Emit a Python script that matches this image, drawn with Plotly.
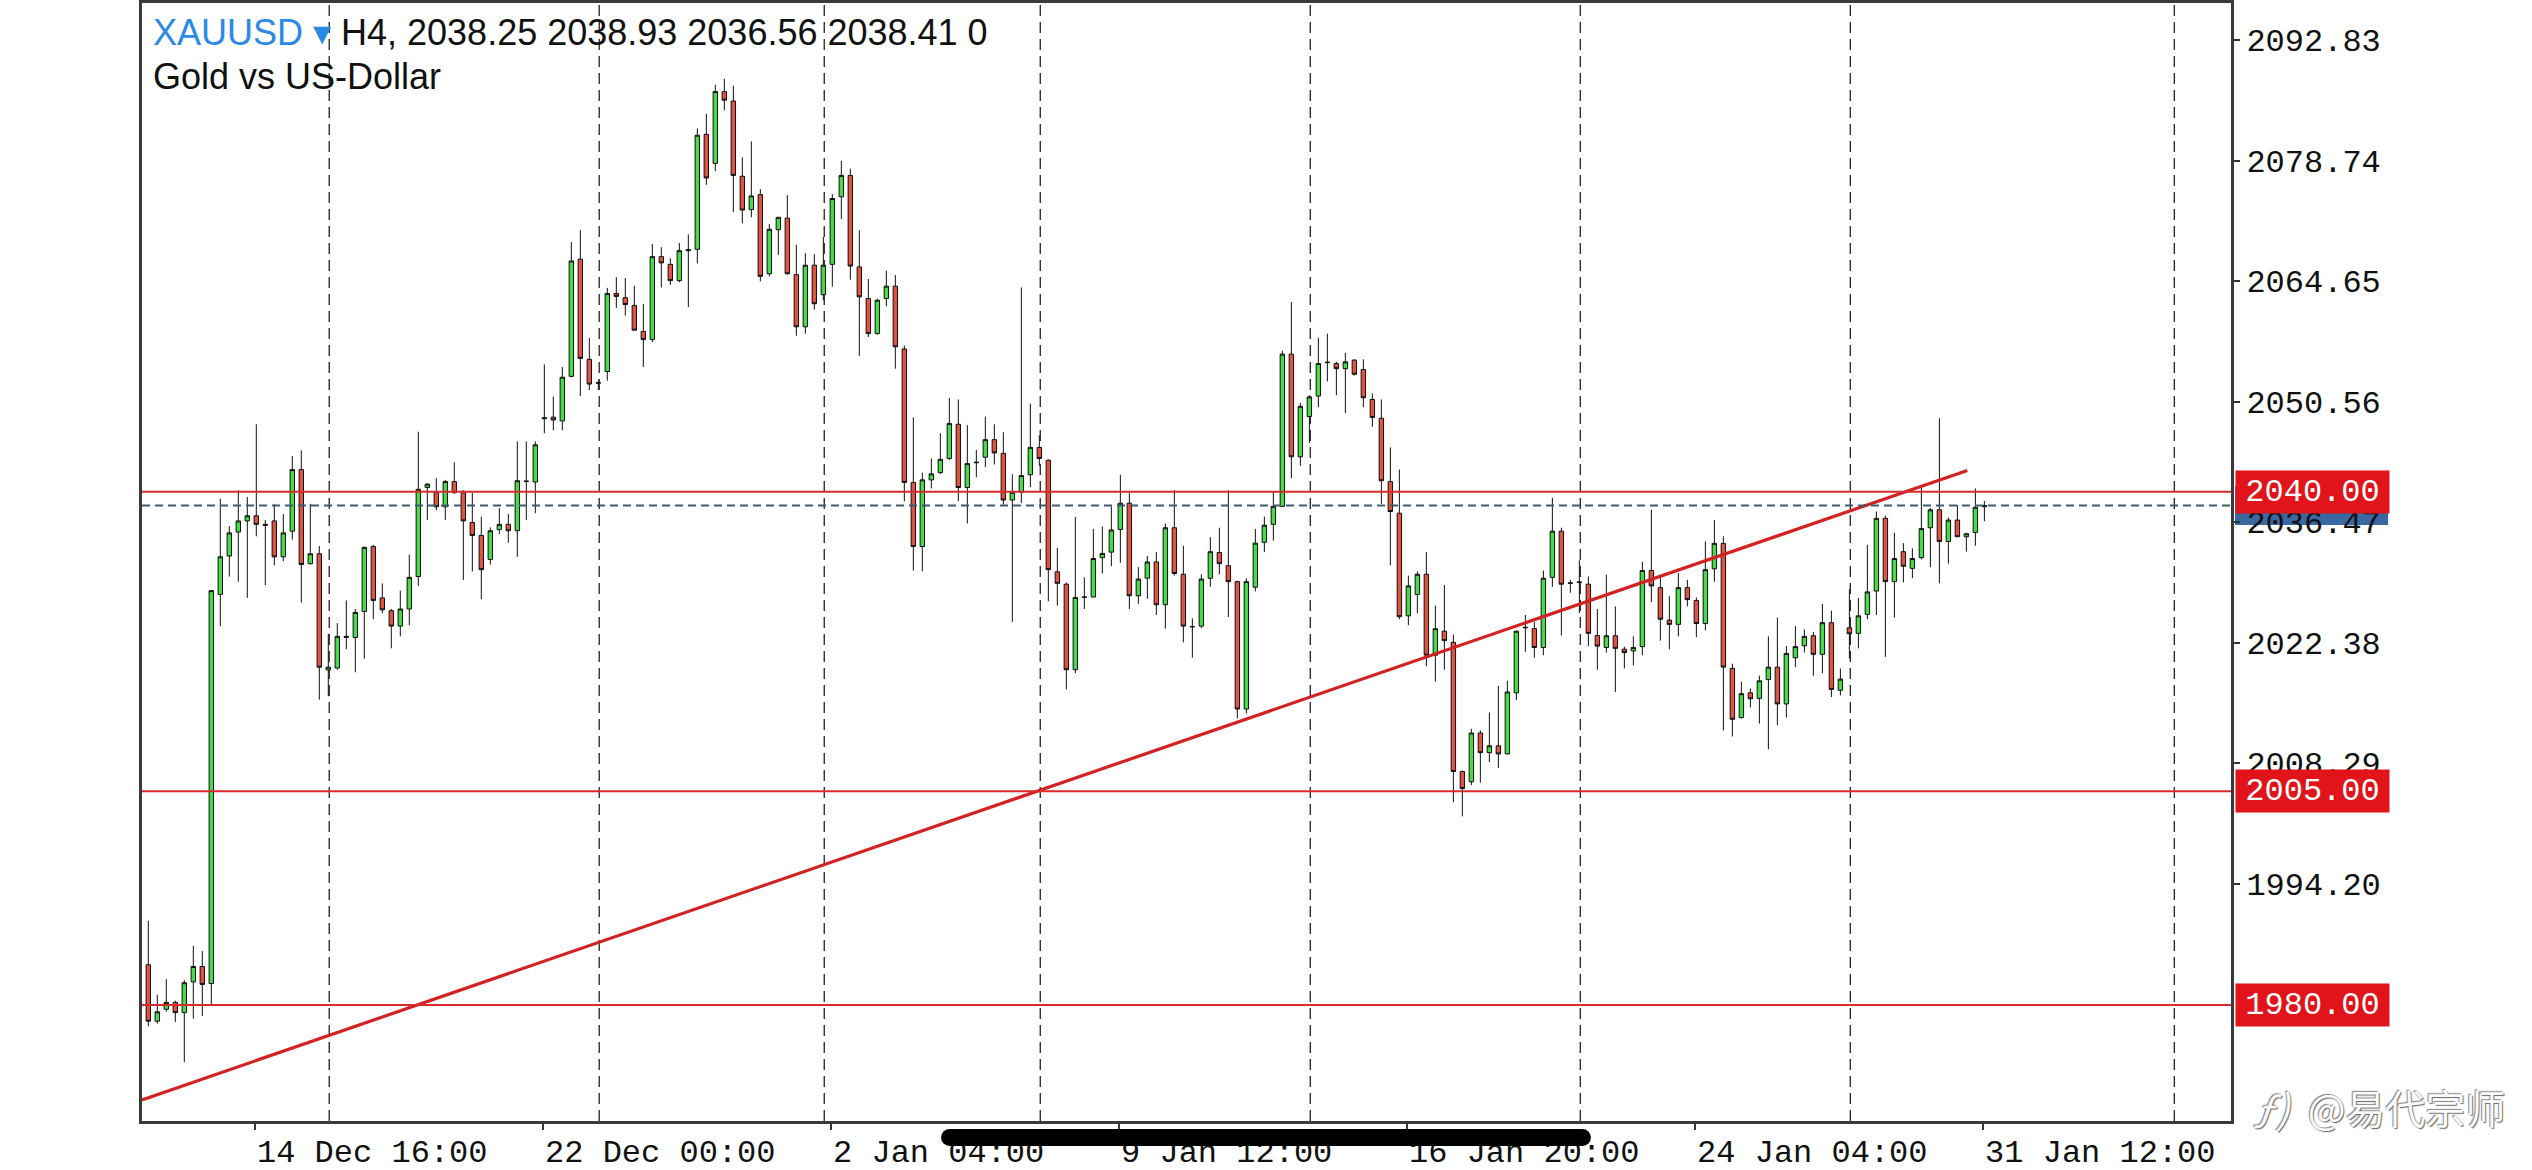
import plotly.graph_objects as go

# H4 candles (bar 0 = oldest)
opens = [
    1984.7, 1978.1, 1979.5, 1980.3, 1979.1, 1982.7, 1984.5, 1982.5, 2028.0, 2032.5,
    2035.3, 2036.6, 2037.2, 2036.2, 2036.6, 2032.4, 2035.4, 2042.6, 2031.6, 2032.76,
    2019.17, 2019.4, 2023.1, 2022.97, 2026.0, 2033.6, 2027.6, 2026.1, 2024.3, 2026.3,
    2030.1, 2040.5, 2039.9, 2038.25, 2041.2, 2039.9, 2036.4, 2034.9, 2032.1, 2035.6,
    2036.2, 2035.45, 2041.2, 2041.15, 2048.55, 2048.73, 2048.3, 2053.5, 2067.2, 2055.5,
    2052.7, 2054.07, 2063.2, 2062.7, 2061.8, 2058.75, 2057.8, 2067.5, 2066.6, 2064.7,
    2068.2, 2068.36, 2081.8, 2078.4, 2086.8, 2085.7, 2076.9, 2073.0, 2074.75, 2065.5,
    2070.65, 2072.0, 2065.4, 2059.3, 2066.5, 2063.05, 2066.6, 2074.5, 2077.0, 2066.3,
    2062.6, 2058.5, 2062.6, 2064.05, 2056.7, 2041.1, 2033.6, 2041.4, 2042.25, 2043.9,
    2047.9, 2040.5, 2043.4, 2044.05, 2046.1, 2044.5, 2039.04, 2039.96, 2042.0, 2045.2,
    2043.7, 2030.65, 2029.2, 2019.2, 2027.65, 2027.7, 2032.3, 2032.95, 2035.6, 2038.67,
    2027.85, 2029.9, 2031.8, 2026.8, 2035.8, 2030.36, 2024.2, 2024.3, 2029.9, 2032.9,
    2031.36, 2029.5, 2014.6, 2028.85, 2034.1, 2036.2, 2038.3, 2056.1, 2044.1, 2048.8,
    2051.2, 2055.1, 2055.0, 2054.4, 2055.4, 2054.3, 2050.8, 2048.6, 2041.2, 2037.5,
    2025.5, 2028.0, 2030.36, 2020.9, 2023.7, 2022.4, 2007.3, 2006.1, 2011.8, 2009.5,
    2010.3, 2009.35, 2016.5, 2024.1, 2024.0, 2021.8, 2030.0, 2035.4, 2029.3, 2029.4,
    2029.2, 2023.2, 2021.8, 2023.17, 2021.6, 2021.4, 2021.9, 2030.8, 2028.8, 2025.0,
    2024.5, 2028.8, 2027.3, 2024.6, 2031.0, 2033.97, 2019.35, 2013.6, 2016.5, 2015.85,
    2018.05, 2019.5, 2015.2, 2020.6, 2022.0, 2023.17, 2021.0, 2024.7, 2016.8, 2024.1,
    2023.45, 2025.67, 2028.4, 2036.9, 2029.5, 2033.0, 2031.05, 2032.3, 2035.8, 2037.9,
    2034.2, 2036.7, 2034.75, 2035.25, 2038.25,
]
highs = [
    1989.85, 1981.2, 1983.0, 1980.5, 1982.9, 1986.9, 1986.3, 2028.5, 2039.2, 2036.0,
    2040.2, 2039.4, 2047.9, 2036.7, 2038.6, 2037.4, 2044.2, 2044.85, 2038.6, 2033.66,
    2023.4, 2024.65, 2027.3, 2026.3, 2033.6, 2033.8, 2029.3, 2026.3, 2028.45, 2032.65,
    2047.03, 2041.04, 2041.6, 2041.4, 2043.45, 2040.2, 2039.9, 2037.1, 2035.84, 2038.1,
    2037.4, 2045.9, 2045.9, 2045.9, 2054.9, 2051.15, 2054.6, 2069.2, 2070.6, 2058.0,
    2053.1, 2063.85, 2065.1, 2065.0, 2064.1, 2061.97, 2068.98, 2068.6, 2067.3, 2069.1,
    2070.1, 2082.5, 2084.2, 2087.6, 2088.3, 2087.5, 2079.1, 2080.97, 2075.4, 2071.3,
    2072.1, 2074.7, 2068.9, 2067.9, 2067.8, 2069.8, 2074.8, 2078.7, 2077.8, 2070.6,
    2064.9, 2062.6, 2065.85, 2065.35, 2057.1, 2048.7, 2042.25, 2043.9, 2046.85, 2051.0,
    2050.8, 2047.8, 2044.9, 2048.8, 2047.9, 2046.97, 2042.05, 2063.9, 2050.3, 2046.6,
    2043.8, 2033.45, 2029.4, 2037.05, 2030.0, 2035.66, 2035.95, 2038.3, 2042.0, 2039.85,
    2031.2, 2032.5, 2032.95, 2036.3, 2040.2, 2033.7, 2025.2, 2030.36, 2034.7, 2035.8,
    2040.2, 2029.6, 2029.9, 2035.66, 2037.1, 2040.05, 2056.5, 2062.2, 2050.4, 2051.3,
    2058.0, 2058.5, 2055.2, 2056.25, 2055.5, 2055.5, 2051.5, 2050.8, 2045.2, 2042.6,
    2030.2, 2030.7, 2032.95, 2026.7, 2029.1, 2023.3, 2007.4, 2012.3, 2012.1, 2014.2,
    2017.3, 2017.9, 2023.8, 2025.6, 2024.8, 2030.8, 2039.3, 2035.8, 2029.7, 2032.0,
    2030.1, 2026.3, 2030.3, 2026.6, 2021.9, 2023.1, 2031.8, 2037.9, 2030.3, 2027.8,
    2030.5, 2029.7, 2027.65, 2034.2, 2036.7, 2034.8, 2019.9, 2017.8, 2017.0, 2018.5,
    2023.1, 2025.3, 2021.97, 2024.3, 2023.9, 2023.6, 2026.9, 2026.1, 2019.35, 2028.6,
    2027.6, 2033.8, 2037.7, 2037.2, 2035.2, 2034.0, 2033.4, 2040.5, 2038.1, 2048.6,
    2037.0, 2038.45, 2035.2, 2040.4, 2038.93,
]
lows = [
    1977.5, 1977.8, 1979.2, 1978.0, 1973.3, 1978.4, 1978.7, 1980.1, 2024.3, 2030.1,
    2029.5, 2027.6, 2034.8, 2029.1, 2031.4, 2031.9, 2034.4, 2027.05, 2031.5, 2015.7,
    2016.1, 2019.2, 2021.6, 2018.9, 2020.5, 2025.1, 2025.8, 2021.7, 2023.1, 2024.4,
    2029.0, 2036.7, 2037.85, 2036.7, 2039.8, 2029.7, 2030.7, 2027.45, 2031.5, 2035.05,
    2034.05, 2032.4, 2036.7, 2037.5, 2046.85, 2047.2, 2047.2, 2053.4, 2051.2, 2051.9,
    2051.9, 2052.99, 2061.5, 2060.6, 2058.9, 2054.6, 2057.5, 2063.9, 2064.2, 2064.5,
    2061.6, 2066.7, 2075.9, 2077.5, 2084.6, 2072.7, 2071.4, 2072.1, 2064.6, 2065.2,
    2067.7, 2065.4, 2058.25, 2058.5, 2061.3, 2062.4, 2064.0, 2071.9, 2064.8, 2055.9,
    2058.1, 2058.4, 2061.7, 2054.4, 2038.9, 2030.8, 2030.7, 2040.4, 2042.1, 2043.7,
    2038.9, 2036.3, 2041.7, 2042.9, 2043.2, 2038.5, 2024.8, 2038.7, 2040.55, 2043.05,
    2027.2, 2026.7, 2016.9, 2018.8, 2026.3, 2027.7, 2030.45, 2031.3, 2031.7, 2026.3,
    2026.9, 2027.5, 2025.6, 2024.0, 2030.2, 2022.4, 2020.6, 2024.05, 2028.9, 2030.36,
    2025.35, 2013.5, 2014.1, 2028.35, 2032.95, 2034.3, 2038.2, 2041.6, 2043.05, 2045.7,
    2049.9, 2052.9, 2051.3, 2049.2, 2053.6, 2049.9, 2047.6, 2038.6, 2031.4, 2025.1,
    2024.4, 2025.8, 2019.6, 2017.8, 2019.2, 2003.7, 2002.05, 2005.7, 2006.0, 2008.4,
    2007.7, 2009.3, 2015.65, 2021.3, 2020.6, 2020.9, 2028.9, 2023.2, 2028.2, 2025.8,
    2021.96, 2019.2, 2021.2, 2016.6, 2019.35, 2019.7, 2020.9, 2027.1, 2022.6, 2021.6,
    2023.1, 2026.6, 2023.0, 2023.8, 2029.5, 2012.1, 2011.4, 2013.5, 2014.8, 2012.9,
    2009.9, 2012.7, 2013.6, 2019.5, 2021.2, 2018.5, 2018.8, 2016.0, 2016.2, 2020.5,
    2021.7, 2025.1, 2025.6, 2020.7, 2025.3, 2029.4, 2029.9, 2032.1, 2031.2, 2029.3,
    2031.6, 2034.7, 2033.0, 2033.7, 2036.56,
]
closes = [
    1978.1, 1979.2, 1980.3, 1979.1, 1982.6, 1984.5, 1982.4, 2028.45, 2032.4, 2035.2,
    2036.6, 2037.2, 2036.2, 2036.1, 2032.4, 2035.2, 2042.6, 2031.5, 2032.76, 2019.5,
    2019.5, 2023.1, 2023.0, 2025.9, 2033.5, 2027.3, 2026.2, 2024.3, 2026.3, 2030.0,
    2040.3, 2040.9, 2038.25, 2041.2, 2039.9, 2036.6, 2034.9, 2030.9, 2035.45, 2036.2,
    2035.45, 2041.3, 2041.25, 2045.5, 2048.65, 2048.4, 2053.4, 2067.0, 2055.6, 2052.6,
    2052.75, 2063.2, 2062.85, 2061.9, 2058.9, 2057.8, 2067.5, 2066.77, 2064.7, 2068.2,
    2068.3, 2081.7, 2076.7, 2086.8, 2085.8, 2077.0, 2072.95, 2074.6, 2065.2, 2070.7,
    2072.1, 2065.5, 2059.3, 2066.5, 2062.0, 2066.5, 2074.3, 2077.0, 2066.4, 2062.8,
    2058.5, 2062.4, 2064.05, 2056.96, 2041.1, 2033.6, 2041.4, 2042.1, 2043.8, 2048.0,
    2040.5, 2043.3, 2043.45, 2046.1, 2044.55, 2039.04, 2039.96, 2041.9, 2045.2, 2043.9,
    2030.9, 2029.3, 2019.2, 2027.65, 2027.7, 2032.2, 2032.8, 2035.54, 2038.67, 2027.85,
    2029.8, 2031.8, 2026.8, 2035.8, 2030.45, 2024.3, 2024.25, 2029.8, 2033.0, 2031.6,
    2029.5, 2014.6, 2029.5, 2034.0, 2036.1, 2038.3, 2056.1, 2044.1, 2050.0, 2051.1,
    2055.0, 2055.15, 2054.4, 2055.2, 2053.75, 2051.0, 2048.7, 2041.3, 2037.7, 2025.4,
    2029.0, 2030.36, 2020.9, 2024.0, 2022.6, 2007.3, 2005.3, 2011.8, 2009.5, 2010.3,
    2009.35, 2016.6, 2023.7, 2024.15, 2021.8, 2029.9, 2035.4, 2029.2, 2029.35, 2029.45,
    2023.45, 2021.96, 2023.17, 2021.7, 2021.2, 2021.8, 2030.8, 2029.0, 2025.1, 2024.5,
    2028.8, 2027.4, 2024.6, 2030.9, 2033.97, 2019.5, 2013.4, 2016.4, 2015.8, 2017.9,
    2019.5, 2015.2, 2021.1, 2021.9, 2023.1, 2021.0, 2024.7, 2016.9, 2018.1, 2023.4,
    2025.5, 2028.3, 2036.9, 2029.5, 2032.2, 2031.3, 2032.2, 2035.7, 2037.9, 2034.2,
    2036.7, 2034.75, 2035.1, 2038.2, 2038.41,
]

# price axis and time axis labels
price_ticks = [2092.83, 2078.74, 2064.65, 2050.56, 2036.47, 2022.38, 2008.29, 1994.20]
time_tick_bars = [11.8, 43.8, 75.8, 107.8, 139.8, 171.8, 203.8]
time_tick_labels = ["14 Dec 16:00", "22 Dec 00:00", "2 Jan 04:00", "9 Jan 12:00",
                    "16 Jan 20:00", "24 Jan 04:00", "31 Jan 12:00"]
separator_bars = [20.1, 50.1, 75.1, 99.1, 129.1, 159.1, 189.1, 225.1]

# drawn objects
levels = [2040.00, 2005.00, 1980.00]
trend_bars = [-0.7, 202.1]
trend_prices = [1968.9, 2042.5]
last_price = 2038.41

bars = list(range(len(opens)))
MONO = "Liberation Mono"
RED = "#e0141a"

fig = go.Figure()

fig.add_trace(go.Candlestick(
    x=bars, open=opens, high=highs, low=lows, close=closes,
    increasing=dict(fillcolor="#46dc46", line=dict(color="#111111", width=1)),
    decreasing=dict(fillcolor="#e25242", line=dict(color="#111111", width=1)),
    whiskerwidth=0, hoverinfo="skip",
))

fig.add_trace(go.Scatter(
    x=trend_bars, y=trend_prices, mode="lines",
    line=dict(color="#d22222", width=3.2), hoverinfo="skip",
))

shapes = []
# period separators
for b in separator_bars:
    shapes.append(dict(type="line", xref="x", yref="paper", x0=b, x1=b, y0=0, y1=1,
                       line=dict(color="#111111", width=1.2, dash="11px,6px"), layer="below"))
# horizontal levels
for lv in levels:
    shapes.append(dict(type="line", xref="paper", yref="y", x0=0, x1=1, y0=lv, y1=lv,
                       line=dict(color="#d92b2b", width=2), layer="above"))
# bid line
shapes.append(dict(type="line", xref="paper", yref="y", x0=0, x1=1, y0=last_price, y1=last_price,
                   line=dict(color="#3f5c6e", width=2, dash="8px,5px"), layer="above"))
# blue price box behind the 2036.47 label
shapes.append(dict(type="rect", xref="paper", yref="y", x0=1.0019, x1=1.0752,
                   y0=2036.12, y1=2040.68, fillcolor="#3a68a2", line=dict(width=0), layer="below"))

# black scroll pill at the bottom
px0, px1 = 0.3825, 0.6936
py0, py1 = -0.0224, -0.0072
rx = 0.0041
shapes.append(dict(type="rect", xref="paper", yref="paper", x0=px0 + rx, x1=px1 - rx,
                   y0=py0, y1=py1, fillcolor="black", line=dict(width=0)))
for cx in (px0 + rx, px1 - rx):
    shapes.append(dict(type="circle", xref="paper", yref="paper", x0=cx - rx, x1=cx + rx,
                       y0=py0, y1=py1, fillcolor="black", line=dict(width=0)))

annotations = []
for lv in levels:
    annotations.append(dict(
        x=1, xref="paper", y=lv, yref="y", xanchor="left", yanchor="middle", xshift=4,
        text=f"{lv:.2f}", showarrow=False, bgcolor=RED, width=147, height=36, borderpad=3,
        font=dict(family=MONO, size=32, color="white"),
    ))

annotations.append(dict(
    x=0, y=0.9732, xref="paper", yref="paper", xanchor="left", yanchor="middle", xshift=9,
    showarrow=False,
    text="<span style='color:#2b8ae4'>XAUUSD \u25be</span> H4, 2038.25 2038.93 2036.56 2038.41 0",
    font=dict(family="Liberation Sans", size=36, color="#111111"),
))
annotations.append(dict(
    x=0, y=0.9345, xref="paper", yref="paper", xanchor="left", yanchor="middle", xshift=9,
    showarrow=False, text="Gold vs US-Dollar",
    font=dict(family="Liberation Sans", size=36, color="#111111"),
))
annotations.append(dict(
    x=1.0, y=0.0125, xref="paper", yref="paper", xanchor="left", yanchor="middle", xshift=20,
    showarrow=False, text="<i>\u0192)</i>  @易代宗师",
    font=dict(family="Noto Sans CJK SC", size=40, color="#fafafa",
              shadow="1px 1px 1px #666, -1px -1px 1px #888"),
))

fig.update_layout(
    width=2532, height=1170,
    margin=dict(l=142, r=301, t=3, b=49),
    paper_bgcolor="white", plot_bgcolor="white",
    showlegend=False,
    shapes=shapes, annotations=annotations,
    xaxis=dict(
        range=[-0.7, 231.4], rangeslider=dict(visible=False), automargin=False,
        tickmode="array", tickvals=time_tick_bars, ticktext=time_tick_labels,
        ticks="outside", ticklen=6, tickwidth=2, tickcolor="#333333",
        ticklabelposition="outside right",
        tickfont=dict(family=MONO, size=32, color="#111111"),
        showgrid=False, zeroline=False,
        showline=True, linecolor="#3a3a3a", linewidth=3, mirror=True,
    ),
    yaxis=dict(
        side="right", range=[1966.43, 2097.16], automargin=False,
        tickmode="array", tickvals=price_ticks, tickformat=".2f",
        ticks="outside", ticklen=6, tickwidth=2, tickcolor="#333333",
        tickfont=dict(family=MONO, size=32, color="#111111"),
        showgrid=False, zeroline=False,
        showline=True, linecolor="#3a3a3a", linewidth=3, mirror=True,
    ),
)

# the page body has a default 8px margin; drop it so the figure sits at the corner
fig.write_html("out.html", config={"displayModeBar": False},
               post_script="document.body.style.margin='0';")
